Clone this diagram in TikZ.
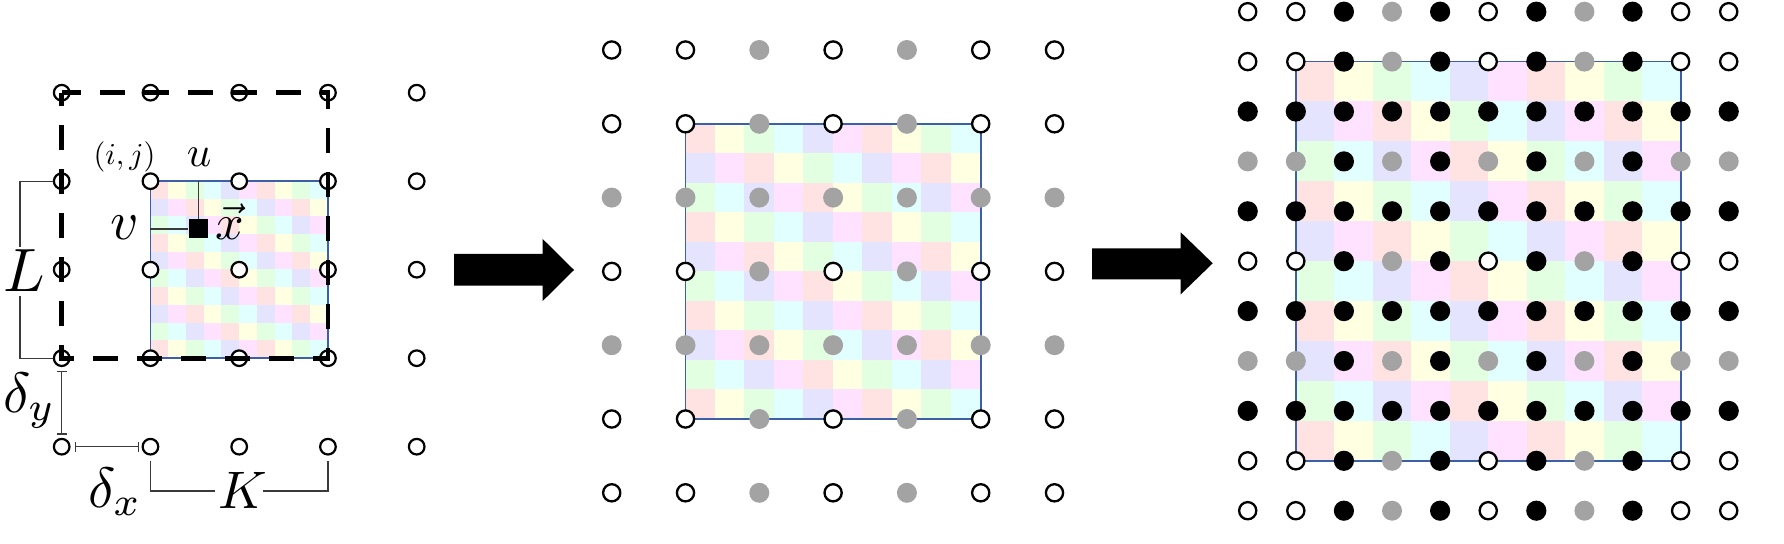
\documentclass[tikz,border=0pt]{standalone}
\usetikzlibrary{arrows.meta}
\definecolor{pc0}{HTML}{FFE2E2}
\definecolor{pc1}{HTML}{FFFFE2}
\definecolor{pc2}{HTML}{E2FFE2}
\definecolor{pc3}{HTML}{E2FFFF}
\definecolor{pc4}{HTML}{E4E4FF}
\definecolor{pc5}{HTML}{FFE2FF}
\definecolor{sqblue}{HTML}{3D5FA8}
\definecolor{dotgray}{HTML}{A3A3A3}
\definecolor{thinc}{HTML}{3A3A3A}
\newcommand{\ChkBoard}[4]{%
  \foreach \i in {0,...,9}{\foreach \j in {0,...,9}{%
    \pgfmathtruncatemacro\k{mod(\i+4*\j,6)}%
    \fill[pc\k, draw=pc\k, line width=0.1pt] ({#1+(#3-#1)*\i/10},{#2+(#4-#2)*\j/10}) rectangle ({#1+(#3-#1)*(\i+1)/10},{#2+(#4-#2)*(\j+1)/10});
  }}%
  \draw[sqborder] (#1,#2) rectangle (#3,#4);
}
\begin{document}
\begin{tikzpicture}[x=0.25pt,y=-0.25pt,
  sqborder/.style={draw=sqblue, line width=0.45pt},
  p1dot/.style={circle, draw=black, fill=white, line width=0.55pt, minimum size=3.9pt, inner sep=0pt},
  dot0/.style={circle, draw=black, fill=white, line width=0.58pt, minimum size=4.3pt, inner sep=0pt},
  dot1/.style={circle, fill=dotgray, minimum size=5pt, inner sep=0pt},
  dot2/.style={circle, fill=black, minimum size=5.05pt, inner sep=0pt},
  dashrect/.style={line width=1.2pt, dash pattern=on 6.25pt off 4.75pt, dash phase=1.5pt},
  thinline/.style={draw=thinc, line width=0.3pt},
  dimline/.style={thinline, {Bar[width=2.4pt]}-{Bar[width=2.4pt]}},
  lbl/.style={inner sep=0pt, anchor=base west},
  blksq/.style={fill=black, minimum size=4.75pt, inner sep=0pt},
  bigarrow/.style={fill=black}
]
\useasboundingbox (0,0) rectangle (1784,544);

% ---------- panel 1 ----------
\ChkBoard{150.45}{181.2}{327.95}{358.2}
\foreach \c in {0,...,4}{\foreach \r in {0,...,4}{%
  \node[p1dot] (a-\c-\r) at ({61.7+88.75*\c},{92.7+88.5*\r}) {};
}}
\draw[dashrect] (a-0-0.center) -- (a-3-0.center) -- (a-3-3.center) -- (a-0-3.center) -- cycle;

\node[blksq] (xs) at (198.5,229) {};
\draw[thinline] (xs.north) -- (xs.north |- a-1-1.center);
\draw[thinline] (xs.west) -- (xs.west -| a-1-1.center);

\node[lbl, scale=0.76] (ij) at (93,165) {$(i,j)$};
\node[lbl, scale=1.07] (u) at (186,167) {$u$};
\node[lbl, scale=1.37] (v) at (109,240) {$v$};
\node[lbl, scale=1.25] (x) at (214,240) {$\vec{x}$};
\node[lbl, scale=1.53] (L) at (2,292) {$L$};
\node[lbl, scale=1.32] (K) at (217,508) {$K$};
\node[lbl, scale=1.42] (dy) at (2,412) {$\delta_y$};
\node[lbl, scale=1.42] (dx) at (87,507) {$\delta_x$};

% L bracket
\coordinate (Lt) at (20,181.2);
\coordinate (Lb) at (20,358.2);
\draw[thinline] (a-0-1.west) -- (Lt) -- (20,247);
\draw[thinline] (20,296) -- (Lb) -- (a-0-3.west);
% K bracket
\coordinate (Kl) at (150.45,491);
\coordinate (Kr) at (327.95,491);
\draw[thinline] (150.45,460.7) -- (Kl) -- (215,491);
\draw[thinline] (263,491) -- (Kr) -- (327.95,460.7);
% delta bars
\draw[dimline, shorten <=1pt, shorten >=0.8pt] (a-0-3.south) -- (a-0-4.north);
\draw[dimline, shorten <=1pt, shorten >=0.65pt] (a-0-4.east) -- (a-1-4.west);

% ---------- arrow 1 ----------
\fill[bigarrow] (454,254) -- (542.7,254) -- (542.7,239) -- (574,270) -- (542.7,301) -- (542.7,285.7) -- (454,285.7) -- cycle;

% ---------- panel 2 ----------
\ChkBoard{685.5}{123.8}{980.7}{419}
\foreach \c/\tc in {0/0,1/0,2/1,3/0,4/1,5/0,6/0}{%
  \foreach \r/\tr in {0/0,1/0,2/1,3/0,4/1,5/0,6/0}{%
    \pgfmathtruncatemacro\t{max(\tc,\tr)}%
    \node[dot\t] (b-\c-\r) at ({611.7+73.8*\c},{50+73.8*\r}) {};
}}

% ---------- arrow 2 ----------
\fill[bigarrow] (1092,248.3) -- (1180.7,248.3) -- (1180.7,232.3) -- (1212.7,263.3) -- (1180.7,294.3) -- (1180.7,279.3) -- (1092,279.3) -- cycle;

% ---------- panel 3 ----------
\ChkBoard{1295.8}{61.6}{1680.7}{460.8}
\foreach \c/\tc in {0/0,1/0,2/2,3/1,4/2,5/0,6/2,7/1,8/2,9/0,10/0}{%
  \foreach \r/\tr in {0/0,1/0,2/2,3/1,4/2,5/0,6/2,7/1,8/2,9/0,10/0}{%
    \pgfmathtruncatemacro\t{max(\tc,\tr)}%
    \node[dot\t] (c-\c-\r) at ({1247.7+48.1*\c},{11.7+49.9*\r}) {};
}}
\end{tikzpicture}
\end{document}
